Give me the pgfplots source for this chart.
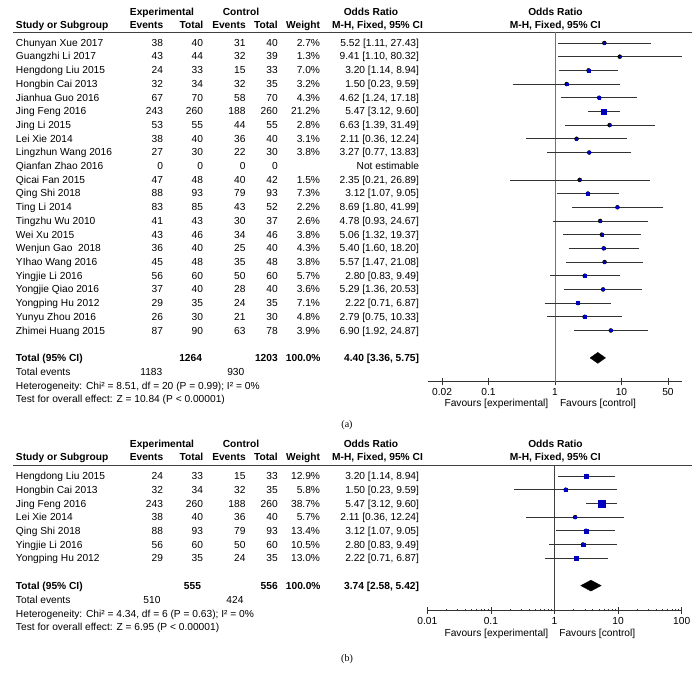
\documentclass[border=0pt]{standalone}
\usepackage{pgfplots}
\pgfplotsset{compat=1.18}
\usepackage{pgfplotstable}
\usepackage{fontspec}
\setmainfont{Liberation Sans}
\newfontfamily\capfont{Liberation Serif}
\definecolor{mblue}{RGB}{0,0,190}

\pgfplotstableread{
row or lo hi w
0 5.52 1.11 27.43 2.7
1 9.41 1.10 80.32 1.3
2 3.20 1.14 8.94 7.0
3 1.50 0.23 9.59 3.2
4 4.62 1.24 17.18 4.3
5 5.47 3.12 9.60 21.2
6 6.63 1.39 31.49 2.8
7 2.11 0.36 12.24 3.1
8 3.27 0.77 13.83 3.8
10 2.35 0.21 26.89 1.5
11 3.12 1.07 9.05 7.3
12 8.69 1.80 41.99 2.2
13 4.78 0.93 24.67 2.6
14 5.06 1.32 19.37 3.8
15 5.40 1.60 18.20 4.3
16 5.57 1.47 21.08 3.8
17 2.80 0.83 9.49 5.7
18 5.29 1.36 20.53 3.6
19 2.22 0.71 6.87 7.1
20 2.79 0.75 10.33 4.8
21 6.90 1.92 24.87 3.9
}\dataA

\pgfplotstableread{
row or lo hi w
0 3.20 1.14 8.94 12.9
1 1.50 0.23 9.59 5.8
2 5.47 3.12 9.60 38.7
3 2.11 0.36 12.24 5.7
4 3.12 1.07 9.05 13.4
5 2.80 0.83 9.49 10.5
6 2.22 0.71 6.87 13.0
}\dataB

\newcommand\fs{\fontsize{10.2}{12}\selectfont}
\newcommand\Lt[3]{\node[anchor=base west] at (#1,{-(#2)-3.6}) {#3};}
\newcommand\Rt[3]{\node[anchor=base east] at (#1,{-(#2)-3.6}) {#3};}
\newcommand\Ct[3]{\node[anchor=base] at (#1,{-(#2)-3.6}) {#3};}
\newcommand\trow[9]{%
  \pgfmathsetmacro\ry{#1+13.7*#2}%
  \Lt{16}{\ry}{#3}\Rt{163}{\ry}{#4}\Rt{203}{\ry}{#5}\Rt{245.5}{\ry}{#6}%
  \Rt{277.7}{\ry}{#7}\Rt{320}{\ry}{#8}\Rt{419}{\ry}{#9}}
\newcommand\header[3]{% y1, y2, yline
  \Ct{162}{#1}{\bfseries Experimental}\Ct{241}{#1}{\bfseries Control}%
  \Ct{371}{#1}{\bfseries Odds Ratio}\Ct{555.5}{#1}{\bfseries Odds Ratio}%
  \Lt{16}{#2}{\bfseries Study or Subgroup}\Rt{163.3}{#2}{\bfseries Events}%
  \Rt{203.3}{#2}{\bfseries Total}\Rt{245.7}{#2}{\bfseries Events}%
  \Rt{277.7}{#2}{\bfseries Total}\Rt{320}{#2}{\bfseries Weight}%
  \Ct{377.5}{#2}{\bfseries M-H, Fixed, 95\% CI}\Ct{555.3}{#2}{\bfseries M-H, Fixed, 95\% CI}%
  \draw[black!75, line width=0.9pt] (13,-#3) -- (692,-#3);}

\pgfplotsset{every axis/.append style={
  scale only axis, xmode=log, anchor=south west,
  axis x line*=bottom, axis y line=none, ytick=\empty,
  x axis line style={-, black!80, line width=0.7pt},
  tick align=center, major tick length=7pt, minor xtick={},
  every tick/.style={black!80, line width=0.7pt},
  xticklabel style={font=\fs, yshift=-3.5pt},
  clip=false}}

\begin{document}
\begin{tikzpicture}[x=1pt,y=1pt, every node/.style={inner sep=0pt, outer sep=0pt, font=\fs}]
\path[use as bounding box, fill=white] (0,0) rectangle (698,-676);

% ---------------- panel (a) ----------------
\header{12}{25.2}{32.3}
\trow{42.7}{0}{Chunyan Xue 2017}{38}{40}{31}{40}{2.7\%}{5.52 [1.11, 27.43]}
\trow{42.7}{1}{Guangzhi Li 2017}{43}{44}{32}{39}{1.3\%}{9.41 [1.10, 80.32]}
\trow{42.7}{2}{Hengdong Liu 2015}{24}{33}{15}{33}{7.0\%}{3.20 [1.14, 8.94]}
\trow{42.7}{3}{Hongbin Cai 2013}{32}{34}{32}{35}{3.2\%}{1.50 [0.23, 9.59]}
\trow{42.7}{4}{Jianhua Guo 2016}{67}{70}{58}{70}{4.3\%}{4.62 [1.24, 17.18]}
\trow{42.7}{5}{Jing Feng 2016}{243}{260}{188}{260}{21.2\%}{5.47 [3.12, 9.60]}
\trow{42.7}{6}{Jing Li 2015}{53}{55}{44}{55}{2.8\%}{6.63 [1.39, 31.49]}
\trow{42.7}{7}{Lei Xie 2014}{38}{40}{36}{40}{3.1\%}{2.11 [0.36, 12.24]}
\trow{42.7}{8}{Lingzhun Wang 2016}{27}{30}{22}{30}{3.8\%}{3.27 [0.77, 13.83]}
\trow{42.7}{9}{Qianfan Zhao 2016}{0}{0}{0}{0}{}{Not estimable}
\trow{42.7}{10}{Qicai Fan 2015}{47}{48}{40}{42}{1.5\%}{2.35 [0.21, 26.89]}
\trow{42.7}{11}{Qing Shi 2018}{88}{93}{79}{93}{7.3\%}{3.12 [1.07, 9.05]}
\trow{42.7}{12}{Ting Li 2014}{83}{85}{43}{52}{2.2\%}{8.69 [1.80, 41.99]}
\trow{42.7}{13}{Tingzhu Wu 2010}{41}{43}{30}{37}{2.6\%}{4.78 [0.93, 24.67]}
\trow{42.7}{14}{Wei Xu 2015}{43}{46}{34}{46}{3.8\%}{5.06 [1.32, 19.37]}
\trow{42.7}{15}{Wenjun Gao~ 2018}{36}{40}{25}{40}{4.3\%}{5.40 [1.60, 18.20]}
\trow{42.7}{16}{YIhao Wang 2016}{45}{48}{35}{48}{3.8\%}{5.57 [1.47, 21.08]}
\trow{42.7}{17}{Yingjie Li 2016}{56}{60}{50}{60}{5.7\%}{2.80 [0.83, 9.49]}
\trow{42.7}{18}{Yongjie Qiao 2016}{37}{40}{28}{40}{3.6\%}{5.29 [1.36, 20.53]}
\trow{42.7}{19}{Yongping Hu 2012}{29}{35}{24}{35}{7.1\%}{2.22 [0.71, 6.87]}
\trow{42.7}{20}{Yunyu Zhou 2016}{26}{30}{21}{30}{4.8\%}{2.79 [0.75, 10.33]}
\trow{42.7}{21}{Zhimei Huang 2015}{87}{90}{63}{78}{3.9\%}{6.90 [1.92, 24.87]}
\Lt{16}{357.8}{\bfseries Total (95\% CI)}\Rt{202}{357.8}{\bfseries 1264}
\Rt{277.7}{357.8}{\bfseries 1203}\Rt{320.5}{357.8}{\bfseries 100.0\%}
\Rt{419}{357.8}{\bfseries 4.40 [3.36, 5.75]}
\Lt{16}{372}{Total events}\Rt{162.3}{372}{1183}\Rt{244.3}{372}{930}
\Lt{16}{385.5}{Heterogeneity: Chi² = 8.51, df = 20 (P = 0.99); I² = 0\%}
\Lt{16}{399}{Test for overall effect: Z = 10.84 (P < 0.00001)}

\begin{axis}[at={(428pt,-381.7pt)}, width=254pt, height=349.4pt,
  xmin=0.01230, xmax=81.3, ymin=-24.74, ymax=0.78,
  xtick={0.02,0.1,1,10,50}, xticklabels={0.02,0.1,1,10,50}]
\addplot[black!55, line width=0.7pt, forget plot] coordinates {(1,0.78) (1,-24.74)};
\addplot[only marks, mark=none, forget plot,
  error bars/.cd, x dir=both, x explicit, error mark=none,
  error bar style={draw=black!80, line width=0.7pt}]
  table[x=or, y expr=-\thisrow{row}, x error plus expr=\thisrow{hi}-\thisrow{or},
        x error minus expr=\thisrow{or}-\thisrow{lo}] {\dataA};
\addplot[scatter, only marks, mark=square*, forget plot,
  scatter/use mapped color={draw=mblue, fill=mblue},
  visualization depends on={max(0.8,0.55*sqrt(\thisrow{w})) \as \msize},
  scatter/@pre marker code/.append style={/tikz/mark size=\msize}]
  table[x=or, y expr=-\thisrow{row}] {\dataA};
\addplot[fill=black, draw=black, line width=0.3pt, forget plot]
  coordinates {(3.36,-23) (4.40,-22.6) (5.75,-23) (4.40,-23.4) (3.36,-23)};
\end{axis}
\node[anchor=base east] at (548.3,-406.6) {Favours [experimental]};
\node[anchor=base west] at (560,-406.6) {Favours [control]};
\node[anchor=base, font=\capfont\fontsize{10}{12}\selectfont] at (347,-427.5) {(a)};

% ---------------- panel (b) ----------------
\header{443.6}{457.2}{465.7}
\trow{476}{0}{Hengdong Liu 2015}{24}{33}{15}{33}{12.9\%}{3.20 [1.14, 8.94]}
\trow{476}{1}{Hongbin Cai 2013}{32}{34}{32}{35}{5.8\%}{1.50 [0.23, 9.59]}
\trow{476}{2}{Jing Feng 2016}{243}{260}{188}{260}{38.7\%}{5.47 [3.12, 9.60]}
\trow{476}{3}{Lei Xie 2014}{38}{40}{36}{40}{5.7\%}{2.11 [0.36, 12.24]}
\trow{476}{4}{Qing Shi 2018}{88}{93}{79}{93}{13.4\%}{3.12 [1.07, 9.05]}
\trow{476}{5}{Yingjie Li 2016}{56}{60}{50}{60}{10.5\%}{2.80 [0.83, 9.49]}
\trow{476}{6}{Yongping Hu 2012}{29}{35}{24}{35}{13.0\%}{2.22 [0.71, 6.87]}
\Lt{16}{585.6}{\bfseries Total (95\% CI)}\Rt{201}{585.6}{\bfseries 555}
\Rt{277.7}{585.6}{\bfseries 556}\Rt{320.5}{585.6}{\bfseries 100.0\%}
\Rt{419}{585.6}{\bfseries 3.74 [2.58, 5.42]}
\Lt{16}{600.3}{Total events}\Rt{160.5}{600.3}{510}\Rt{243.5}{600.3}{424}
\Lt{16}{613.8}{Heterogeneity: Chi² = 4.34, df = 6 (P = 0.63); I² = 0\%}
\Lt{16}{627}{Test for overall effect: Z = 6.95 (P < 0.00001)}

\begin{axis}[at={(427.3pt,-610pt)}, width=254.4pt, height=144.3pt,
  xmin=0.01, xmax=100, ymin=-9.78, ymax=0.752,
  xtick={0.01,0.1,1,10,100}, xticklabels={0.01,0.1,1,10,100}]
\addplot[black!75, line width=0.7pt, forget plot] coordinates {(1,0.752) (1,-9.78)};
\addplot[only marks, mark=none, forget plot,
  error bars/.cd, x dir=both, x explicit, error mark=none,
  error bar style={draw=black!80, line width=0.7pt}]
  table[x=or, y expr=-\thisrow{row}, x error plus expr=\thisrow{hi}-\thisrow{or},
        x error minus expr=\thisrow{or}-\thisrow{lo}] {\dataB};
\addplot[scatter, only marks, mark=square*, forget plot,
  scatter/use mapped color={draw=mblue, fill=mblue},
  visualization depends on={max(0.8,0.55*sqrt(\thisrow{w})) \as \msize},
  scatter/@pre marker code/.append style={/tikz/mark size=\msize}]
  table[x=or, y expr=-\thisrow{row}] {\dataB};
\addplot[fill=black, draw=black, line width=0.3pt, forget plot]
  coordinates {(2.58,-8) (3.74,-7.6) (5.42,-8) (3.74,-8.4) (2.58,-8)};
\end{axis}
\node[anchor=base east] at (548.3,-636.3) {Favours [experimental]};
\node[anchor=base west] at (559.3,-636.3) {Favours [control]};
\node[anchor=base, font=\capfont\fontsize{10}{12}\selectfont] at (347,-661) {(b)};
\end{tikzpicture}
\end{document}
